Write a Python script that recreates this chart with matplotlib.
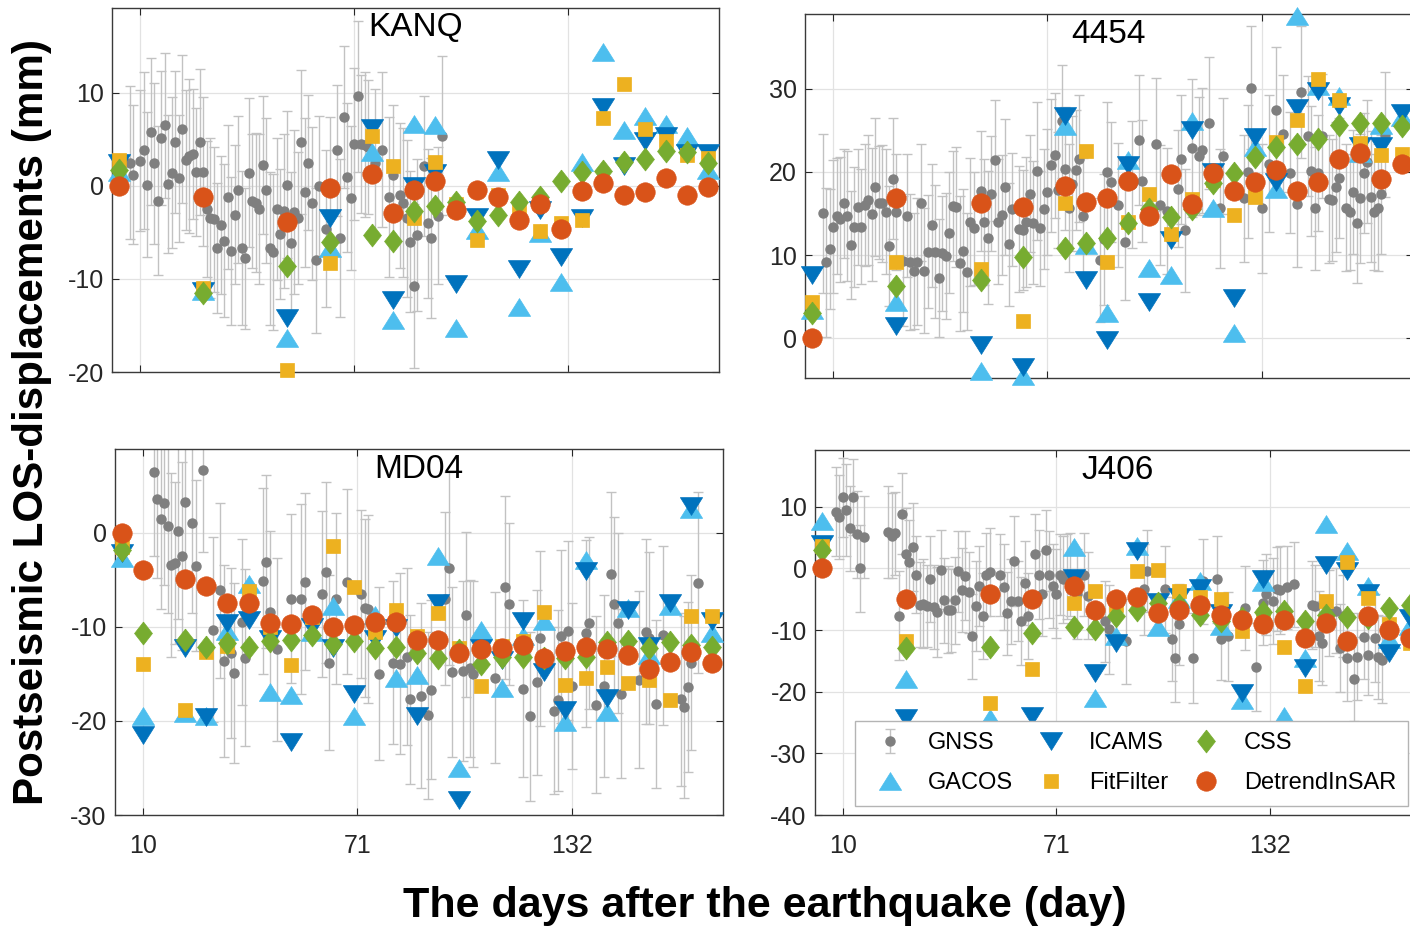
import matplotlib.pyplot as plt

plt.rcParams['font.family'] = ['Liberation Sans', 'DejaVu Sans']
plt.rcParams['axes.unicode_minus'] = False

# InSAR acquisition days (days after the earthquake)
insar_days = [4, 28, 52, 64, 76, 82, 88, 94, 100, 106, 112, 118, 124, 130,
              136, 142, 148, 154, 160, 166, 172]
md04_days = [4, 10, 22, 28, 34, 40, 46, 52, 58, 64, 70, 76, 82, 88, 94, 100,
             106, 112, 118, 124, 130, 136, 142, 148, 154, 160, 166, 172]

# ---- KANQ ----
kanq_gacos = [1.5, -11.3, -16.4, -6.7, 3.6, -14.4, 6.6, 6.5, -15.3, -4.7, 1.5,
              -13.0, -5.1, -10.3, 2.6, 14.4, 6.0, 7.5, 6.6, 5.3, 1.7]
kanq_icams = [2.5, -11.3, -14.2, -3.5, 6.2, -12.3, 0.0, 1.4, -10.6, -3.3, 2.8,
              -8.9, -2.6, -7.6, -3.5, 8.5, 2.1, 4.8, 5.3, 3.5, 3.5]
kanq_fit = [2.8, -11.0, -19.8, -8.3, 5.4, 2.1, -3.5, 2.6, -2.0, -5.8, -1.0,
            -2.5, -4.9, -4.0, -3.7, 7.3, 10.9, 6.1, 4.8, 3.3, 3.0]
kanq_css = [1.7, -11.5, -8.6, -6.0, -5.3, -5.9, -2.7, -2.2, -1.7, -3.8, -3.1,
            -1.7, -1.2, 0.5, 1.5, 1.6, 2.6, 2.9, 3.7, 3.6, 2.4]
kanq_det = [0.0, -1.2, -3.9, -0.2, 1.3, -2.9, -0.4, 0.5, -2.6, -0.4, -1.2,
            -3.7, -2.0, -4.6, -0.6, 0.3, -1.0, -0.7, 0.8, -1.0, -0.1]
kanq_gnss_day = [7, 8, 10, 11, 12, 13, 14, 15, 16, 17,
                 18, 19, 20, 21, 22, 23, 24, 25, 26, 27,
                 28, 29, 30, 31, 32, 33, 34, 35, 36, 37,
                 38, 39, 40, 41, 42, 43, 44, 45, 46, 47,
                 48, 49, 50, 51, 52, 53, 54, 55, 56, 57,
                 58, 59, 60, 61, 63, 64, 66, 67, 68, 69,
                 70, 71, 72, 73, 74, 75, 77, 79, 81, 82,
                 84, 85, 86, 87, 88, 89, 91, 92, 93, 95,
                 96]
kanq_gnss = [2.5, 1.2, 2.7, 3.8, 0.1, 5.8, 2.4, -1.6, 5.1, 6.5,
             0.2, 1.4, 4.7, 0.8, 6.1, 2.8, 3.2, 3.4, 1.5, 4.7,
             1.5, -2.5, -3.5, -3.6, -6.7, -4.2, -5.9, -1.2, -7.0, -3.1,
             -0.4, -6.7, -7.8, 1.4, -1.6, -1.8, -2.5, 2.2, -0.5, -6.7,
             -7.1, -2.5, -5.2, -2.7, 0.1, -6.1, -2.8, -3.5, 4.7, -0.7,
             2.5, -1.9, -8.0, 0.0, -4.6, -0.5, 3.8, -5.6, 7.4, 0.9,
             -1.3, 4.5, 9.6, 4.5, 4.4, 4.2, 2.5, 3.9, -1.2, 1.2,
             -1.0, -1.8, -3.5, -6.0, -10.8, -5.3, 2.1, -4.0, -5.6, -3.2,
             5.4]
kanq_err = [8.2, 7.5, 7.6, 8.4, 7.8, 7.9, 8.6, 8.0, 7.2, 7.8,
            7.4, 8.1, 7.6, 6.8, 7.9, 7.5, 8.3, 7.0, 6.9, 7.8,
            8.0, 7.3, 8.6, 7.8, 7.0, 7.4, 8.2, 7.7, 8.0, 7.5,
            7.9, 8.3, 7.6, 8.0, 7.2, 7.5, 8.1, 7.4, 7.8, 8.2,
            8.4, 7.6, 7.0, 8.3, 7.9, 7.6, 8.8, 7.1, 7.7, 8.0,
            7.3, 8.2, 7.8, 7.5, 8.4, 7.9, 7.0, 8.5, 7.6, 8.0,
            7.7, 8.2, 8.1, 7.4, 7.8, 7.2, 7.9, 8.3, 8.6, 7.5,
            7.8, 8.0, 8.4, 7.6, 8.8, 8.2, 7.5, 8.0, 8.6, 7.4,
            8.5]

# ---- 4454 ----
s4454_gacos = [3.4, 4.4, -3.9, -4.5, 25.5, 11.2, 3.0, 21.4, 8.4, 7.6, 26.1,
               15.6, 0.6, 23.0, 18.0, 38.8, 30.3, 29.1, 22.3, 25.7, 26.6]
s4454_icams = [7.6, 1.4, -0.8, -3.5, 26.7, 7.0, -0.2, 20.8, 4.4, 11.8, 25.1,
               20.0, 4.8, 24.2, 18.8, 27.7, 29.7, 27.9, 23.1, 23.1, 27.1]
s4454_fit = [4.4, 9.1, 8.3, 2.0, 16.3, 22.5, 9.1, 14.0, 17.3, 12.5, 16.7,
             19.0, 14.8, 17.0, 23.6, 26.3, 31.2, 28.7, 23.5, 22.0, 22.1]
s4454_css = [3.0, 6.3, 7.0, 9.7, 10.8, 11.4, 12.1, 13.9, 15.5, 14.6, 15.5,
             18.7, 19.9, 21.8, 23.0, 23.3, 23.9, 25.7, 25.9, 25.9, 25.5]
s4454_det = [0.0, 16.9, 16.3, 15.8, 18.3, 16.4, 16.9, 18.9, 14.7, 19.8, 16.1,
             19.9, 17.7, 18.8, 20.2, 17.7, 18.8, 21.5, 22.3, 19.2, 21.0]
s4454_gnss_day = [7, 8, 9, 10, 11, 12, 13, 14, 15, 16,
                  17, 18, 19, 20, 21, 22, 23, 24, 25, 26,
                  27, 28, 30, 31, 32, 33, 34, 35, 36, 37,
                  38, 39, 40, 41, 42, 43, 44, 45, 46, 47,
                  48, 49, 50, 52, 53, 54, 55, 56, 57, 58,
                  59, 60, 61, 63, 64, 65, 66, 67, 68, 69,
                  70, 71, 72, 73, 74, 75, 76, 77, 78, 79,
                  80, 81, 86, 87, 88, 89, 91, 93, 95, 97,
                  98, 102, 103, 105, 108, 109, 110, 112, 114, 115,
                  117, 120, 121, 127, 128, 129, 132, 134, 136, 138,
                  140, 142, 143, 145, 146, 147, 148, 149, 151, 152,
                  153, 154, 156, 157, 158, 159, 160, 161, 162, 163,
                  164, 165, 166, 167]
s4454_gnss = [15.0, 9.1, 10.7, 13.4, 14.7, 14.3, 16.2, 14.7, 11.2, 13.4,
              15.8, 13.4, 16.0, 16.6, 14.9, 18.2, 16.3, 16.2, 15.2, 11.1,
              19.2, 15.2, 9.3, 14.7, 9.2, 8.1, 9.2, 16.3, 8.1, 10.4,
              13.6, 10.4, 7.2, 10.2, 9.9, 12.7, 15.9, 15.8, 9.0, 10.5,
              8.0, 14.0, 13.2, 17.7, 14.0, 12.1, 17.4, 21.4, 14.0, 14.8,
              18.2, 11.3, 15.5, 13.1, 13.0, 14.0, 17.4, 13.9, 20.1, 13.2,
              15.5, 17.6, 20.8, 22.0, 17.8, 26.1, 20.4, 15.6, 18.6, 20.2,
              21.6, 14.7, 9.4, 11.9, 20.0, 18.8, 16.0, 11.6, 18.5, 23.8,
              18.9, 23.3, 16.0, 15.3, 18.0, 21.5, 13.0, 22.9, 21.9, 22.6,
              25.9, 15.6, 21.9, 16.8, 20.0, 30.1, 15.6, 21.0, 27.5, 24.6,
              19.9, 16.1, 29.6, 24.3, 20.1, 15.6, 19.9, 24.3, 16.7, 16.6,
              18.2, 19.3, 15.7, 15.2, 17.6, 13.9, 16.8, 19.9, 21.2, 17.0,
              15.2, 15.7, 17.3, 24.5]
s4454_err = [9.6, 9.0, 7.2, 8.0, 7.0, 7.5, 6.6, 7.8, 6.5, 7.2,
             7.0, 6.9, 7.3, 7.8, 8.0, 8.3, 6.8, 7.0, 7.5, 7.2,
             7.3, 7.0, 7.8, 7.4, 8.2, 7.0, 7.6, 7.0, 7.5, 6.8,
             7.4, 8.0, 7.1, 6.9, 7.6, 7.3, 6.6, 7.2, 8.1, 7.4,
             7.0, 7.7, 6.8, 7.2, 7.6, 8.0, 6.9, 7.3, 7.5, 7.2,
             8.2, 7.4, 6.8, 7.6, 7.2, 7.8, 7.0, 7.4, 8.3, 6.9,
             7.2, 7.6, 8.0, 7.5, 7.0, 6.8, 7.4, 7.7, 8.1, 7.2,
             7.6, 7.0, 7.5, 7.9, 8.4, 7.2, 7.5, 7.0, 7.6, 7.8,
             7.3, 8.0, 7.2, 7.6, 7.0, 7.8, 7.4, 8.3, 7.1, 7.5,
             7.9, 7.2, 7.0, 7.6, 8.0, 7.4, 7.8, 8.2, 7.5, 7.0,
             7.3, 7.6, 7.9, 7.2, 7.8, 7.4, 7.0, 7.5, 7.7, 7.3,
             7.8, 7.2, 7.6, 7.0, 7.5, 7.3, 7.8, 7.2, 7.4, 7.9,
             7.0, 7.6, 7.2, 7.5]

# ---- MD04 ----
md04_gacos = [-2.7, -19.5, -19.2, -19.5, -10.4, -5.5, -16.9, -17.2, -10.5,
              -7.8, -19.5, -8.7, -15.4, -15.1, -2.5, -25.0, -10.3, -16.5,
              -11.0, -9.4, -20.1, -2.9, -19.0, -8.0, -13.0, -7.8, 2.5, -10.7]
md04_icams = [-2.2, -21.5, -12.3, -19.6, -9.6, -9.3, -11.3, -22.2, -10.0,
              -12.3, -17.1, -11.3, -10.1, -19.5, -7.5, -28.4, -12.2, -13.5,
              -9.4, -14.8, -18.8, -4.1, -17.6, -8.2, -12.0, -7.5, 2.8, -9.4]
md04_fit = [-1.5, -13.9, -18.8, -12.7, -12.0, -6.2, -10.0, -14.1, -9.0,
            -1.4, -5.8, -10.5, -8.2, -11.0, -8.5, -12.3, -16.3, -12.0,
            -11.5, -8.4, -16.2, -15.4, -14.3, -16.0, -15.6, -17.8, -8.8, -8.8]
md04_css = [-1.8, -10.7, -11.4, -12.1, -11.7, -12.1, -11.5, -11.4, -10.9,
            -11.8, -11.5, -12.3, -12.1, -12.8, -13.3, -12.5, -14.0, -13.2,
            -13.2, -13.3, -13.3, -13.2, -11.6, -11.5, -12.3, -11.6, -11.9, -12.1]
md04_det = [0.0, -4.0, -4.9, -5.7, -7.5, -7.5, -9.6, -9.7, -8.7, -10.0,
            -9.8, -9.5, -9.5, -11.4, -11.4, -12.8, -12.4, -12.3, -11.9,
            -13.3, -12.6, -12.1, -12.4, -13.0, -14.5, -13.7, -12.7, -13.8]
md04_gnss_day = [13, 14, 15, 16, 17, 18, 19, 20, 21, 22,
                 24, 25, 27, 30, 32, 33, 35, 36, 38, 39,
                 44, 45, 46, 48, 52, 55, 56, 61, 62, 63,
                 65, 68, 72, 73, 74, 77, 81, 83, 85, 86,
                 89, 91, 92, 96, 97, 98, 101, 102, 103, 104,
                 110, 113, 114, 118, 120, 122, 123, 127, 128, 129,
                 131, 132, 136, 137, 139, 141, 143, 144, 145, 146,
                 151, 153, 154, 156, 158, 163, 164, 165, 166, 168]
md04_gnss = [6.5, 3.6, 1.5, 3.2, 0.7, -3.4, -3.2, 0.2, -2.5, 3.3,
             1.0, -3.5, 6.7, -10.3, -6.1, -13.6, -12.8, -14.9, -9.5, -13.3,
             -5.1, -3.1, -8.4, -12.4, -7.0, -7.0, -5.2, -6.5, -4.2, -13.8,
             -7.0, -5.2, -6.5, -8.0, -8.1, -15.0, -13.8, -13.9, -13.2, -17.7,
             -17.3, -19.4, -16.7, -7.0, -3.8, -14.8, -14.7, -8.7, -14.4, -15.0,
             -15.4, -5.8, -7.6, -16.6, -19.5, -15.9, -11.2, -18.9, -17.8, -11.0,
             -10.4, -16.3, -10.7, -9.6, -18.3, -16.3, -4.4, -7.6, -9.6, -17.1,
             -15.6, -10.5, -11.2, -18.2, -10.9, -17.7, -18.5, -16.4, -13.8, -5.3]
md04_err = [9.0, 8.4, 9.6, 8.8, 9.2, 9.8, 8.6, 9.4, 10.0, 8.9,
            9.5, 9.1, 8.7, 9.8, 9.3, 10.2, 9.0, 9.6, 8.8, 9.4,
            9.9, 9.2, 8.6, 9.7, 9.0, 10.1, 9.4, 8.8, 9.6, 9.3,
            9.1, 9.8, 8.9, 9.5, 10.0, 9.2, 8.7, 9.6, 9.4, 9.0,
            9.8, 8.9, 9.5, 9.2, 10.3, 9.0, 9.6, 8.8, 9.4, 9.9,
            9.1, 9.7, 8.6, 9.4, 9.0, 9.8, 9.3, 8.9, 9.6, 9.2,
            9.5, 8.8, 9.9, 9.1, 9.4, 9.7, 8.7, 9.3, 9.6, 9.0,
            9.4, 9.8, 9.1, 8.9, 9.5, 9.2, 9.7, 9.0, 9.3, 9.6]

# ---- J406 ----
j406_gacos = [7.7, -18.0, -24.2, -28.0, 3.4, -21.0, -11.0, 3.7, -9.5, -5.0,
              -2.1, -9.4, -21.3, -2.2, -24.0, -14.5, 7.2, 2.8, -2.9, -11.5, -9.4]
j406_icams = [3.9, -24.3, -27.0, -24.0, -1.5, -17.0, -12.1, 2.8, -5.5, -4.7,
              -3.2, -7.3, -20.2, -1.8, -27.0, -16.1, 0.6, -0.4, -4.0, -13.7, -8.1]
j406_fit = [3.7, -11.7, -21.8, -16.4, -5.6, -3.7, -6.0, -0.4, -0.2, -3.7,
            -4.6, -5.0, -10.2, -8.0, -12.7, -19.1, -5.3, 1.0, -4.8, -9.0, -12.1]
j406_css = [3.0, -12.9, -12.7, -10.5, -9.5, -9.9, -7.8, -6.7, -5.6, -6.0,
            -7.5, -8.6, -8.0, -7.0, -6.9, -8.6, -7.5, -7.9, -8.0, -6.5, -5.9]
j406_det = [0.0, -5.0, -4.1, -4.9, -2.8, -6.8, -5.0, -4.6, -7.3, -6.7,
            -6.0, -7.6, -8.3, -9.1, -8.3, -11.3, -8.8, -11.8, -7.8, -10.0, -11.3]
j406_gnss_day = [8, 9, 10, 11, 12, 13, 14, 15, 16, 23,
                 24, 25, 26, 27, 28, 29, 30, 31, 32, 33,
                 34, 35, 36, 37, 38, 39, 40, 41, 42, 43,
                 44, 45, 46, 47, 48, 49, 50, 51, 52, 55,
                 56, 57, 58, 59, 60, 61, 62, 63, 65, 66,
                 67, 68, 69, 70, 71, 72, 73, 74, 75, 77,
                 79, 80, 85, 86, 91, 96, 97, 102, 104, 105,
                 106, 110, 113, 117, 118, 120, 125, 128, 130, 131,
                 133, 134, 135, 137, 139, 144, 145, 146, 147, 149,
                 151, 152, 153, 154, 156, 157, 159, 160, 162, 163,
                 164]
j406_gnss = [9.2, 8.4, 11.5, 9.5, 6.5, 11.6, 5.5, 0.0, 5.1, 5.9,
             5.3, 5.7, -7.7, 8.9, 2.4, 1.0, 3.5, -1.0, -5.9, -5.7,
             -6.1, -1.7, -6.2, -7.1, -0.2, -5.2, -6.7, -6.8, -5.2, -0.5,
             -3.5, -1.2, -3.9, -11.0, -6.1, -2.9, -7.7, -1.0, -0.6, -1.1,
             -3.0, -7.3, -5.3, 1.2, -5.3, -8.5, -2.4, -7.7, 2.3, -1.0,
             -4.1, 2.9, -1.0, -2.8, -4.1, -1.0, -1.8, -1.3, -1.0, -4.2,
             -1.0, -4.4, -8.6, -9.9, -11.8, -3.4, -0.4, -3.4, -11.5, -14.5,
             -9.1, -14.5, -2.1, -1.8, -11.4, -11.0, -6.4, -16.0, -5.6, -4.2,
             -5.3, -3.4, -3.5, -3.1, -2.6, -5.9, -6.1, -11.0, -12.1, -7.2,
             -6.9, -12.9, -7.7, -14.5, -18.0, -14.3, -11.1, -14.0, -11.3, -14.4,
             -14.8]
j406_err = [7.2, 6.8, 6.4, 7.5, 6.9, 6.2, 7.0, 7.1, 6.6, 7.4,
            6.9, 6.7, 7.2, 6.5, 7.4, 6.8, 7.1, 6.3, 6.9, 7.2,
            6.6, 7.0, 6.8, 7.3, 6.4, 6.9, 7.1, 6.7, 7.0, 6.5,
            6.8, 7.2, 6.6, 6.9, 7.3, 6.5, 7.0, 6.8, 7.2, 6.6,
            7.0, 6.7, 6.9, 7.3, 6.5, 7.1, 6.8, 7.0, 6.6, 7.2,
            6.9, 6.5, 7.0, 6.8, 7.2, 6.6, 7.1, 6.9, 6.7, 7.3,
            6.8, 7.0, 6.6, 7.2, 6.9, 7.4, 6.7, 7.0, 6.8, 7.1,
            6.6, 7.3, 6.9, 7.0, 6.7, 7.2, 6.8, 7.1, 6.9, 6.6,
            7.0, 6.8, 7.2, 6.7, 6.9, 7.1, 6.6, 7.3, 6.8, 7.0,
            6.9, 7.2, 6.7, 7.0, 6.8, 7.1, 6.9, 6.6, 7.2, 6.8,
            7.0]

x_ticks = [10, 71, 132]
legend_order = ['GNSS', 'GACOS', 'ICAMS', 'FitFilter', 'CSS', 'DetrendInSAR']

# colours (MATLAB default order)
C_GNSS = '#7f7f7f'
C_ERR = '#c2c2c2'
C_GACOS = '#4dbeee'
C_ICAMS = '#0072bd'
C_FIT = '#edb120'
C_CSS = '#77ac30'
C_DET = '#d95319'

TRI_UP = [(0, 0.8), (-1, -0.8), (1, -0.8), (0, 0.8)]
TRI_DOWN = [(0, -0.8), (-1, 0.8), (1, 0.8), (0, -0.8)]
DIAMOND = [(0, 1), (0.78, 0), (0, -1), (-0.78, 0), (0, 1)]

panels = [
    dict(name='KANQ', rect=[112, 8, 719, 372], ylim=(-20, 19.1), yticks=[-20, -10, 0, 10],
         days=insar_days, gacos=kanq_gacos, icams=kanq_icams, fit=kanq_fit, css=kanq_css,
         det=kanq_det, gd=kanq_gnss_day, gv=kanq_gnss, ge=kanq_err, bottom=False),
    dict(name='4454', rect=[805, 14, 1413, 378], ylim=(-4.8, 39.0), yticks=[0, 10, 20, 30],
         days=insar_days, gacos=s4454_gacos, icams=s4454_icams, fit=s4454_fit, css=s4454_css,
         det=s4454_det, gd=s4454_gnss_day, gv=s4454_gnss, ge=s4454_err, bottom=False),
    dict(name='MD04', rect=[115, 449, 723, 815], ylim=(-30, 8.9), yticks=[-30, -20, -10, 0],
         days=md04_days, gacos=md04_gacos, icams=md04_icams, fit=md04_fit, css=md04_css,
         det=md04_det, gd=md04_gnss_day, gv=md04_gnss, ge=md04_err, bottom=True),
    dict(name='J406', rect=[815, 450, 1420, 815], ylim=(-40, 19.2),
         yticks=[-40, -30, -20, -10, 0, 10],
         days=insar_days, gacos=j406_gacos, icams=j406_icams, fit=j406_fit, css=j406_css,
         det=j406_det, gd=j406_gnss_day, gv=j406_gnss, ge=j406_err, bottom=True),
]

W, H = 1410, 930
fig = plt.figure(figsize=(W / 100, H / 100), dpi=100)

for p in panels:
    x0, y0, x1, y1 = p['rect']
    ax = fig.add_axes([x0 / W, 1 - y1 / H, (x1 - x0) / W, (y1 - y0) / H])
    ax.errorbar(p['gd'], p['gv'], yerr=p['ge'], fmt='o', color=C_GNSS, ms=6.5,
                ecolor=C_ERR, elinewidth=1.0, capsize=3.5, capthick=1.0,
                label='GNSS', zorder=2)
    ax.plot(p['days'], p['gacos'], ls='none', marker=TRI_UP, ms=16, color=C_GACOS,
            mec=C_GACOS, mew=0.5, label='GACOS', clip_on=False, zorder=3)
    ax.plot(p['days'], p['icams'], ls='none', marker=TRI_DOWN, ms=16, color=C_ICAMS,
            mec=C_ICAMS, mew=0.5, label='ICAMS', clip_on=False, zorder=4)
    ax.plot(p['days'], p['fit'], ls='none', marker='s', ms=10.5, color=C_FIT,
            mec=C_FIT, mew=0.5, label='FitFilter', clip_on=False, zorder=5)
    ax.plot(p['days'], p['css'], ls='none', marker=DIAMOND, ms=16.5, color=C_CSS,
            mec=C_CSS, mew=0.5, label='CSS', clip_on=False, zorder=6)
    ax.plot(p['days'], p['det'], ls='none', marker='o', ms=14, color=C_DET,
            mec=C_DET, mew=0.5, label='DetrendInSAR', clip_on=False, zorder=7)

    ax.set_xlim(2, 175)
    ax.set_ylim(*p['ylim'])
    ax.set_xticks(x_ticks)
    ax.set_yticks(p['yticks'])
    ax.grid(True, color='#e2e2e2', linewidth=0.9)
    ax.set_axisbelow(True)
    for s in ax.spines.values():
        s.set_color('#3a3a3a')
        s.set_linewidth(1.0)
    ax.tick_params(direction='in', length=5, width=0.8, top=True, right=True,
                   labelsize=18, colors='#262626', pad=6)
    ax.tick_params(axis='x', pad=14)
    if not p['bottom']:
        ax.tick_params(labelbottom=False)
    ax.text(0.5, 1 - 20 / (y1 - y0), p['name'], transform=ax.transAxes,
            ha='center', va='center', fontsize=24, zorder=10)

    if p['name'] == 'J406':
        h, l = ax.get_legend_handles_labels()
        lookup = dict(zip(l, h))
        leg = ax.legend([lookup[k] for k in legend_order], legend_order, ncol=3,
                        loc='lower left', mode='expand', borderaxespad=0,
                        bbox_to_anchor=(0.066, 0.025, 0.914, 0.243),
                        fontsize=17, frameon=True, fancybox=False, framealpha=1,
                        edgecolor='#b4b4b4', handlelength=2.0, handletextpad=0.6,
                        borderpad=0.5, labelspacing=0.75, columnspacing=1.2)
        leg.get_frame().set_linewidth(1.0)
        leg.set_zorder(20)

fig.text(32 / W, 1 - 422 / H, 'Postseismic LOS-displacements (mm)', rotation=90,
         ha='center', va='center', fontsize=30.3, fontweight='bold')
fig.text(765 / W, 1 - 906 / H, 'The days after the earthquake (day)',
         ha='center', va='center', fontsize=31, fontweight='bold')

fig.savefig('out.png', dpi=100, facecolor='white')
